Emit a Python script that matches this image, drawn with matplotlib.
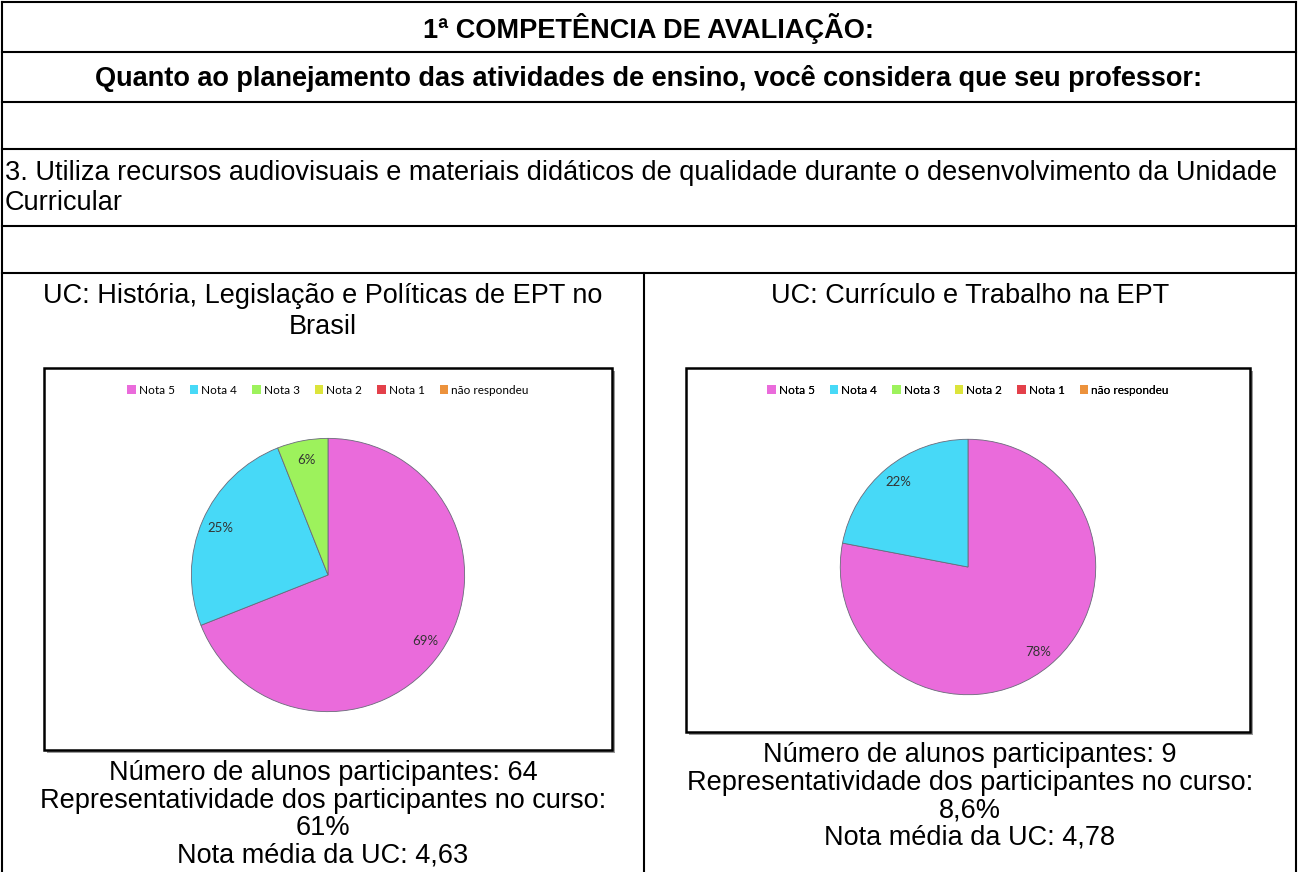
import matplotlib
matplotlib.use("Agg")
import matplotlib.pyplot as plt
from matplotlib.patches import Patch, Rectangle

# data
labels = ["Nota 5", "Nota 4", "Nota 3", "Nota 2", "Nota 1", "não respondeu"]
colors = ["#EA6BDB", "#47D9F7", "#9DF25C", "#DCE43A", "#E3404A", "#EC923C"]
left_pct = [69, 25, 6, 0, 0, 0]
right_pct = [78, 22, 0, 0, 0, 0]

title = "1ª COMPETÊNCIA DE AVALIAÇÃO:"
subtitle = "Quanto ao planejamento das atividades de ensino, você considera que seu professor:"
question = ["3. Utiliza recursos audiovisuais e materiais didáticos de qualidade durante o desenvolvimento da Unidade",
            "Curricular"]
left_title = ["UC: História, Legislação e Políticas de EPT no", "Brasil"]
right_title = ["UC: Currículo e Trabalho na EPT"]
left_info = ["Número de alunos participantes: 64",
             "Representatividade dos participantes no curso:",
             "61%", "Nota média da UC: 4,63"]
right_info = ["Número de alunos participantes: 9",
              "Representatividade dos participantes no curso:",
              "8,6%", "Nota média da UC: 4,78"]

W, H = 1299, 872
FS = 19.5
plt.rcParams["font.family"] = ["Liberation Sans", "DejaVu Sans"]
fig = plt.figure(figsize=(W / 100, H / 100), dpi=100)
ax = fig.add_axes([0, 0, 1, 1])
ax.set_xlim(0, W)
ax.set_ylim(H, 0)
ax.axis("off")

# table lines
for y in [2, 52, 102, 149, 226, 273]:
    ax.plot([2, 1296], [y, y], color="black", lw=1.5)
ax.plot([2, 2], [2, H], color="black", lw=1.5)
ax.plot([1296, 1296], [2, H], color="black", lw=1.5)
ax.plot([644, 644], [273, H], color="black", lw=1.5)

ax.text(649, 28, title, ha="center", va="center", fontsize=FS, fontweight="bold")
ax.text(649, 78, subtitle, ha="center", va="center", fontsize=FS, fontweight="bold")
for i, s in enumerate(question):
    ax.text(5, 173 + 30 * i, s, ha="left", va="center", fontsize=FS)


def panel(cx, titles, info, info_y0, box, pie_c, pie_r, values):
    for i, s in enumerate(titles):
        ax.text(cx, 296 + 31 * i, s, ha="center", va="center", fontsize=FS)
    for i, s in enumerate(info):
        ax.text(cx, info_y0 + 27.5 * i, s, ha="center", va="center", fontsize=FS)
    x0, y0, x1, y1 = box
    ax.add_patch(Rectangle((x0 + 3, y0 + 3), x1 - x0, y1 - y0, facecolor="#9a9a9a",
                           edgecolor="none", zorder=1))
    ax.add_patch(Rectangle((x0, y0), x1 - x0, y1 - y0, facecolor="white",
                           edgecolor="black", lw=1.8, zorder=2))

    px, py = pie_c
    pax = fig.add_axes([(px - pie_r) / W, 1 - (py + pie_r) / H, 2 * pie_r / W, 2 * pie_r / H])
    vals = [v for v in values if v > 0]
    cols = [c for v, c in zip(values, colors) if v > 0]
    pax.pie(vals, colors=cols, startangle=90, counterclock=False,
            autopct=lambda p: "%d%%" % round(p), pctdistance=0.86,
            wedgeprops=dict(edgecolor="#6a6a7a", linewidth=0.6),
            textprops=dict(fontsize=9.5, color="#333333", family="Lato"))
    pax.set_xlim(-1.01, 1.01)
    pax.set_ylim(-1.01, 1.01)

    handles = [Patch(facecolor=c, edgecolor="none", label=l) for l, c in zip(labels, colors)]
    leg = ax.legend(handles=handles, ncol=6, loc="center",
                    bbox_to_anchor=((x0 + x1) / 2, 390),
                    bbox_transform=ax.transData, frameon=False,
                    prop=dict(family="Lato", size=8.5), handlelength=0.7,
                    handleheight=0.7, handletextpad=0.25, columnspacing=1.3)
    ax.add_artist(leg)


panel(323, left_title, left_info, 773, (44, 368, 612, 750), (328, 575), 138, left_pct)
panel(970, right_title, right_info, 755, (686, 368, 1250, 732), (968, 567), 129, right_pct)

fig.savefig("out.png", dpi=100)
